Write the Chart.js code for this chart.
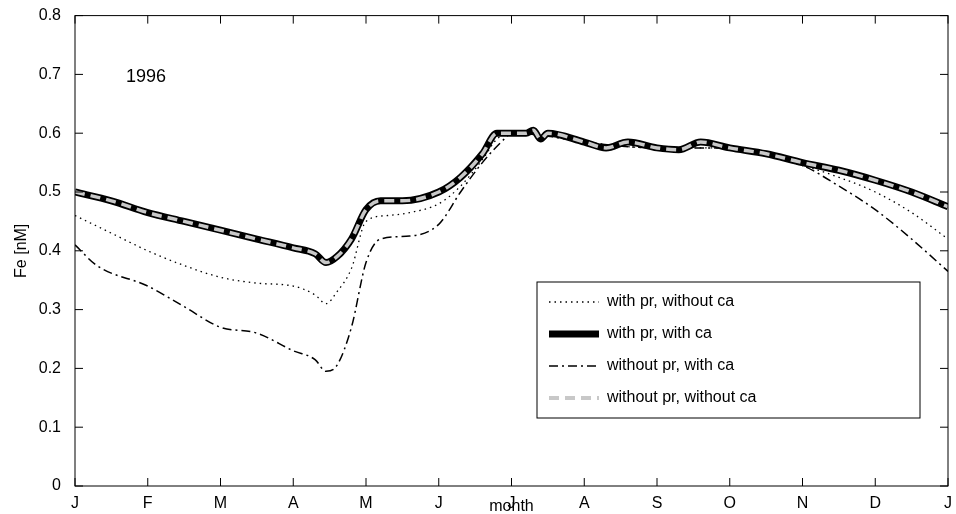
<!DOCTYPE html>
<html><head><meta charset="utf-8">
<script src="https://cdn.jsdelivr.net/npm/chart.js@4/dist/chart.umd.min.js"></script>
<style>html,body{margin:0;background:#fff}#wrap{width:956px;height:514px}</style>
</head><body><div id="wrap"><canvas id="c"></canvas></div>
<script>
// ---------- Data (x = month index, 0 = Jan) ----------
const monthLabels = ["J","F","M","A","M","J","J","A","S","O","N","D","J"];
const yTicks = [0,0.1,0.2,0.3,0.4,0.5,0.6,0.7,0.8];

const xMain = [0,0.5,1,1.5,2,2.5,3,3.3,3.45,3.6,3.8,4.0,4.2,4.5,5,5.3,5.6,5.8,6.0,6.2,6.3,6.4,6.5,7.0,7.3,7.6,8.0,8.3,8.6,9.0,9.5,10,10.5,11,11.5,12];
const withPrWithCa = [0.50,0.485,0.465,0.45,0.435,0.42,0.405,0.395,0.38,0.39,0.42,0.47,0.485,0.485,0.50,0.525,0.565,0.60,0.60,0.60,0.605,0.59,0.60,0.585,0.575,0.585,0.575,0.572,0.585,0.575,0.565,0.55,0.537,0.52,0.50,0.475];
const withoutPrWithoutCa = withPrWithCa.slice();

const xDot = [0,0.5,1,1.5,2,2.5,3,3.3,3.45,3.6,3.8,4.0,4.3,4.6,5,5.3,5.6,5.8,6.0,6.5,7,8,9,10,10.5,11,11.5,12];
const withPrWithoutCa = [0.46,0.43,0.40,0.375,0.355,0.345,0.34,0.325,0.31,0.33,0.37,0.45,0.46,0.465,0.48,0.51,0.555,0.59,0.60,0.595,0.585,0.575,0.575,0.545,0.525,0.50,0.465,0.42];

const xDash = [0,0.3,1,1.5,2,2.5,3,3.3,3.45,3.6,3.8,4.0,4.2,4.6,5,5.3,5.6,5.9,6.0,6.5,7,8,9,10,10.5,11,11.5,12];
const withoutPrWithCa = [0.41,0.375,0.34,0.305,0.27,0.26,0.23,0.215,0.195,0.205,0.27,0.38,0.42,0.425,0.445,0.50,0.55,0.59,0.60,0.595,0.585,0.575,0.575,0.545,0.51,0.47,0.42,0.365];

const pts = (xs, ys) => xs.map((x, i) => ({ x, y: ys[i] }));
const FONT = "'Liberation Sans', Arial, sans-serif";

const legendItems = [
  { label: "with pr, without ca", color: "#000", width: 1.3, dash: [1.5, 4] },
  { label: "with pr, with ca", color: "#000", width: 7, dash: [] },
  { label: "without pr, with ca", color: "#000", width: 1.5, dash: [9, 4, 2, 4] },
  { label: "without pr, without ca", color: "#c8c8c8", width: 4, dash: [10, 6] }
];

const decor = {
  id: "decor",
  afterDraw(chart) {
    const { ctx, chartArea: a } = chart;
    ctx.save();
    ctx.strokeStyle = "#000"; ctx.lineWidth = 1; ctx.setLineDash([]);
    ctx.strokeRect(a.left, a.top, a.right - a.left, a.bottom - a.top);
    // inward ticks
    const xs = chart.scales.x, ys = chart.scales.y;
    for (let m = 0; m <= 12; m++) {
      const px = xs.getPixelForValue(m);
      ctx.beginPath(); ctx.moveTo(px, a.bottom); ctx.lineTo(px, a.bottom - 8);
      ctx.moveTo(px, a.top); ctx.lineTo(px, a.top + 8); ctx.stroke();
    }
    yTicks.forEach(v => {
      const py = ys.getPixelForValue(v);
      ctx.beginPath(); ctx.moveTo(a.left, py); ctx.lineTo(a.left + 8, py);
      ctx.moveTo(a.right, py); ctx.lineTo(a.right - 8, py); ctx.stroke();
    });
    ctx.fillStyle = "#000";
    ctx.font = "18px " + FONT;
    ctx.textAlign = "left"; ctx.textBaseline = "middle";
    ctx.fillText("1996", 126, 77);
    ctx.font = "16px " + FONT;
    ctx.textAlign = "center";
    ctx.fillText("month", (a.left + a.right) / 2, 507);
    ctx.save(); ctx.translate(22, (a.top + a.bottom) / 2); ctx.rotate(-Math.PI / 2);
    ctx.fillText("Fe [nM]", 0, 0); ctx.restore();
    // legend box
    const bx = 537, by = 282, bw = 383, bh = 136;
    ctx.fillStyle = "#fff"; ctx.fillRect(bx, by, bw, bh);
    ctx.strokeRect(bx, by, bw, bh);
    legendItems.forEach((it, i) => {
      const ly = by + 20 + i * 32;
      ctx.strokeStyle = it.color; ctx.lineWidth = it.width; ctx.setLineDash(it.dash);
      ctx.beginPath(); ctx.moveTo(bx + 12, ly); ctx.lineTo(bx + 62, ly); ctx.stroke();
      ctx.fillStyle = "#000"; ctx.textAlign = "left";
      ctx.fillText(it.label, bx + 70, ly);
    });
    ctx.restore();
  }
};

new Chart(document.getElementById("c"), {
  type: "line",
  data: {
    datasets: [
      { data: pts(xMain, withoutPrWithoutCa), borderColor: "#c8c8c8", borderWidth: 3.5, borderDash: [10, 6], order: 0 },
      { data: pts(xMain, withPrWithCa), borderColor: "#000", borderWidth: 7, order: 1 },
      { data: pts(xDot, withPrWithoutCa), borderColor: "#000", borderWidth: 1.3, borderDash: [1.5, 4], order: 2 },
      { data: pts(xDash, withoutPrWithCa), borderColor: "#000", borderWidth: 1.5, borderDash: [9, 4, 2, 4], order: 3 }
    ].map(d => Object.assign(d, { pointRadius: 0, tension: 0.4, cubicInterpolationMode: "monotone", fill: false }))
  },
  options: {
    responsive: true, maintainAspectRatio: false, animation: false,
    layout: { padding: { top: 15, right: 8, left: 0, bottom: 0 } },
    plugins: { legend: { display: false }, tooltip: { enabled: false } },
    scales: {
      x: {
        type: "linear", min: 0, max: 12,
        afterBuildTicks: s => { s.ticks = monthLabels.map((_, i) => ({ value: i })); },
        afterFit: s => { s.height = 28; },
        grid: { display: false }, border: { display: false },
        ticks: { color: "#000", font: { family: FONT, size: 16 }, padding: 0, maxRotation: 0, autoSkip: false,
          callback: v => monthLabels[v] }
      },
      y: {
        min: 0, max: 0.8,
        afterBuildTicks: s => { s.ticks = yTicks.map(v => ({ value: v })); },
        afterFit: s => { s.width = 75; },
        grid: { display: false }, border: { display: false },
        ticks: { color: "#000", font: { family: FONT, size: 16 }, padding: 6,
          callback: v => v === 0 ? "0" : v.toFixed(1) }
      }
    }
  },
  plugins: [decor]
});
</script></body></html>
